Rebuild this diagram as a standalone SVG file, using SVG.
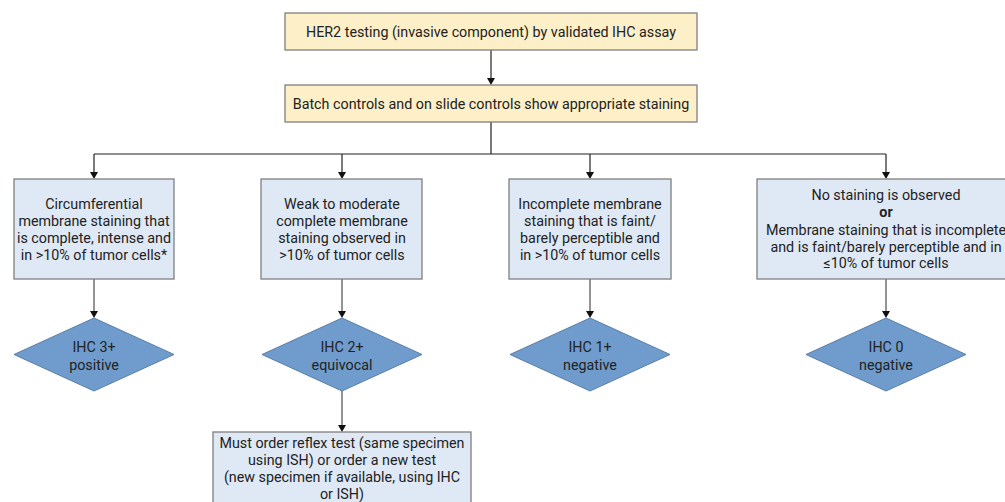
<svg xmlns="http://www.w3.org/2000/svg" width="1005" height="502" viewBox="0 0 1005 502">
<style>
text{font-family:Roboto,"Liberation Sans",sans-serif;font-size:14.3px;fill:#222;text-anchor:middle}
.y{fill:#fdf0c8;stroke:#7f7f7f;stroke-width:1.3}
.b{fill:#dfe9f5;stroke:#7f7f7f;stroke-width:1.3}
.d{fill:#6f9ccc;stroke:#5a7fa8;stroke-width:1}
.c{fill:none;stroke:#222;stroke-width:1.2}
.g{fill:none;stroke:#666;stroke-width:1.4}
</style>
<defs>
<path id="ah" d="M-4,-7 h8 l-4,7 z" fill="#111"/>
</defs>
<rect width="1005" height="502" fill="#fff"/>
<g id="connectors">
<line class="c" x1="491" y1="50" x2="491" y2="78"/>
<path class="c" d="M491,122 V154 M94,154 H886"/>
<line class="c" x1="94" y1="154" x2="94" y2="172"/>
<line class="c" x1="342" y1="154" x2="342" y2="172"/>
<line class="c" x1="590" y1="154" x2="590" y2="172"/>
<line class="c" x1="886" y1="154" x2="886" y2="172"/>
<line class="g" x1="94" y1="279" x2="94" y2="311"/>
<line class="g" x1="342" y1="279" x2="342" y2="311"/>
<line class="g" x1="590" y1="279" x2="590" y2="311"/>
<line class="g" x1="886" y1="279" x2="886" y2="311"/>
<line class="g" x1="342" y1="391" x2="342" y2="425"/>
<use href="#ah" x="491" y="85"/>
<use href="#ah" x="94" y="179"/>
<use href="#ah" x="342" y="179"/>
<use href="#ah" x="590" y="179"/>
<use href="#ah" x="886" y="179"/>
<use href="#ah" x="94" y="318"/>
<use href="#ah" x="342" y="318"/>
<use href="#ah" x="590" y="318"/>
<use href="#ah" x="886" y="318"/>
<use href="#ah" x="342" y="432"/>
</g>
<g id="n-her2">
<rect class="y" x="285" y="13" width="412" height="37"/>
<text x="491" y="36.5">HER2 testing (invasive component) by validated IHC assay</text>
</g>
<g id="n-controls">
<rect class="y" x="285" y="85" width="412" height="37"/>
<text x="491" y="108.5">Batch controls and on slide controls show appropriate staining</text>
</g>
<g id="n-circ">
<rect class="b" x="14" y="179" width="160" height="100"/>
<text x="94" y="208.5">Circumferential</text>
<text x="94" y="225.5">membrane staining that</text>
<text x="94" y="242.5">is complete, intense and</text>
<text x="94" y="259.5">in &gt;10% of tumor cells*</text>
</g>
<g id="n-weak">
<rect class="b" x="261" y="179" width="161" height="100"/>
<text x="342" y="208.5">Weak to moderate</text>
<text x="342" y="225.5">complete membrane</text>
<text x="342" y="242.5">staining observed in</text>
<text x="342" y="259.5">&gt;10% of tumor cells</text>
</g>
<g id="n-incomplete">
<rect class="b" x="509" y="179" width="162" height="100"/>
<text x="590" y="208.5">Incomplete membrane</text>
<text x="590" y="225.5">staining that is faint/</text>
<text x="590" y="242.5">barely perceptible and</text>
<text x="590" y="259.5">in &gt;10% of tumor cells</text>
</g>
<g id="n-none">
<rect class="b" x="757" y="179" width="258" height="100"/>
<text x="886" y="200">No staining is observed</text>
<text x="886" y="217" font-weight="bold">or</text>
<text x="886" y="234.5">Membrane staining that is incomplete</text>
<text x="886" y="251.5">and is faint/barely perceptible and in</text>
<text x="886" y="268">≤10% of tumor cells</text>
</g>
<g id="n-ihc3">
<polygon class="d" points="94,318 174,354.5 94,391 14,354.5"/>
<text x="94" y="352">IHC 3+</text>
<text x="94" y="369.5">positive</text>
</g>
<g id="n-ihc2">
<polygon class="d" points="342,318 422,354.5 342,391 262,354.5"/>
<text x="342" y="352">IHC 2+</text>
<text x="342" y="369.5">equivocal</text>
</g>
<g id="n-ihc1">
<polygon class="d" points="590,318 670,354.5 590,391 510,354.5"/>
<text x="590" y="352">IHC 1+</text>
<text x="590" y="369.5">negative</text>
</g>
<g id="n-ihc0">
<polygon class="d" points="886,318 966,354.5 886,391 806,354.5"/>
<text x="886" y="352">IHC 0</text>
<text x="886" y="369.5">negative</text>
</g>
<g id="n-reflex">
<rect class="b" x="213" y="432" width="258" height="80"/>
<text x="342" y="448">Must order reflex test (same specimen</text>
<text x="342" y="465">using ISH) or order a new test</text>
<text x="342" y="482">(new specimen if available, using IHC</text>
<text x="342" y="499">or ISH)</text>
</g>
</svg>
